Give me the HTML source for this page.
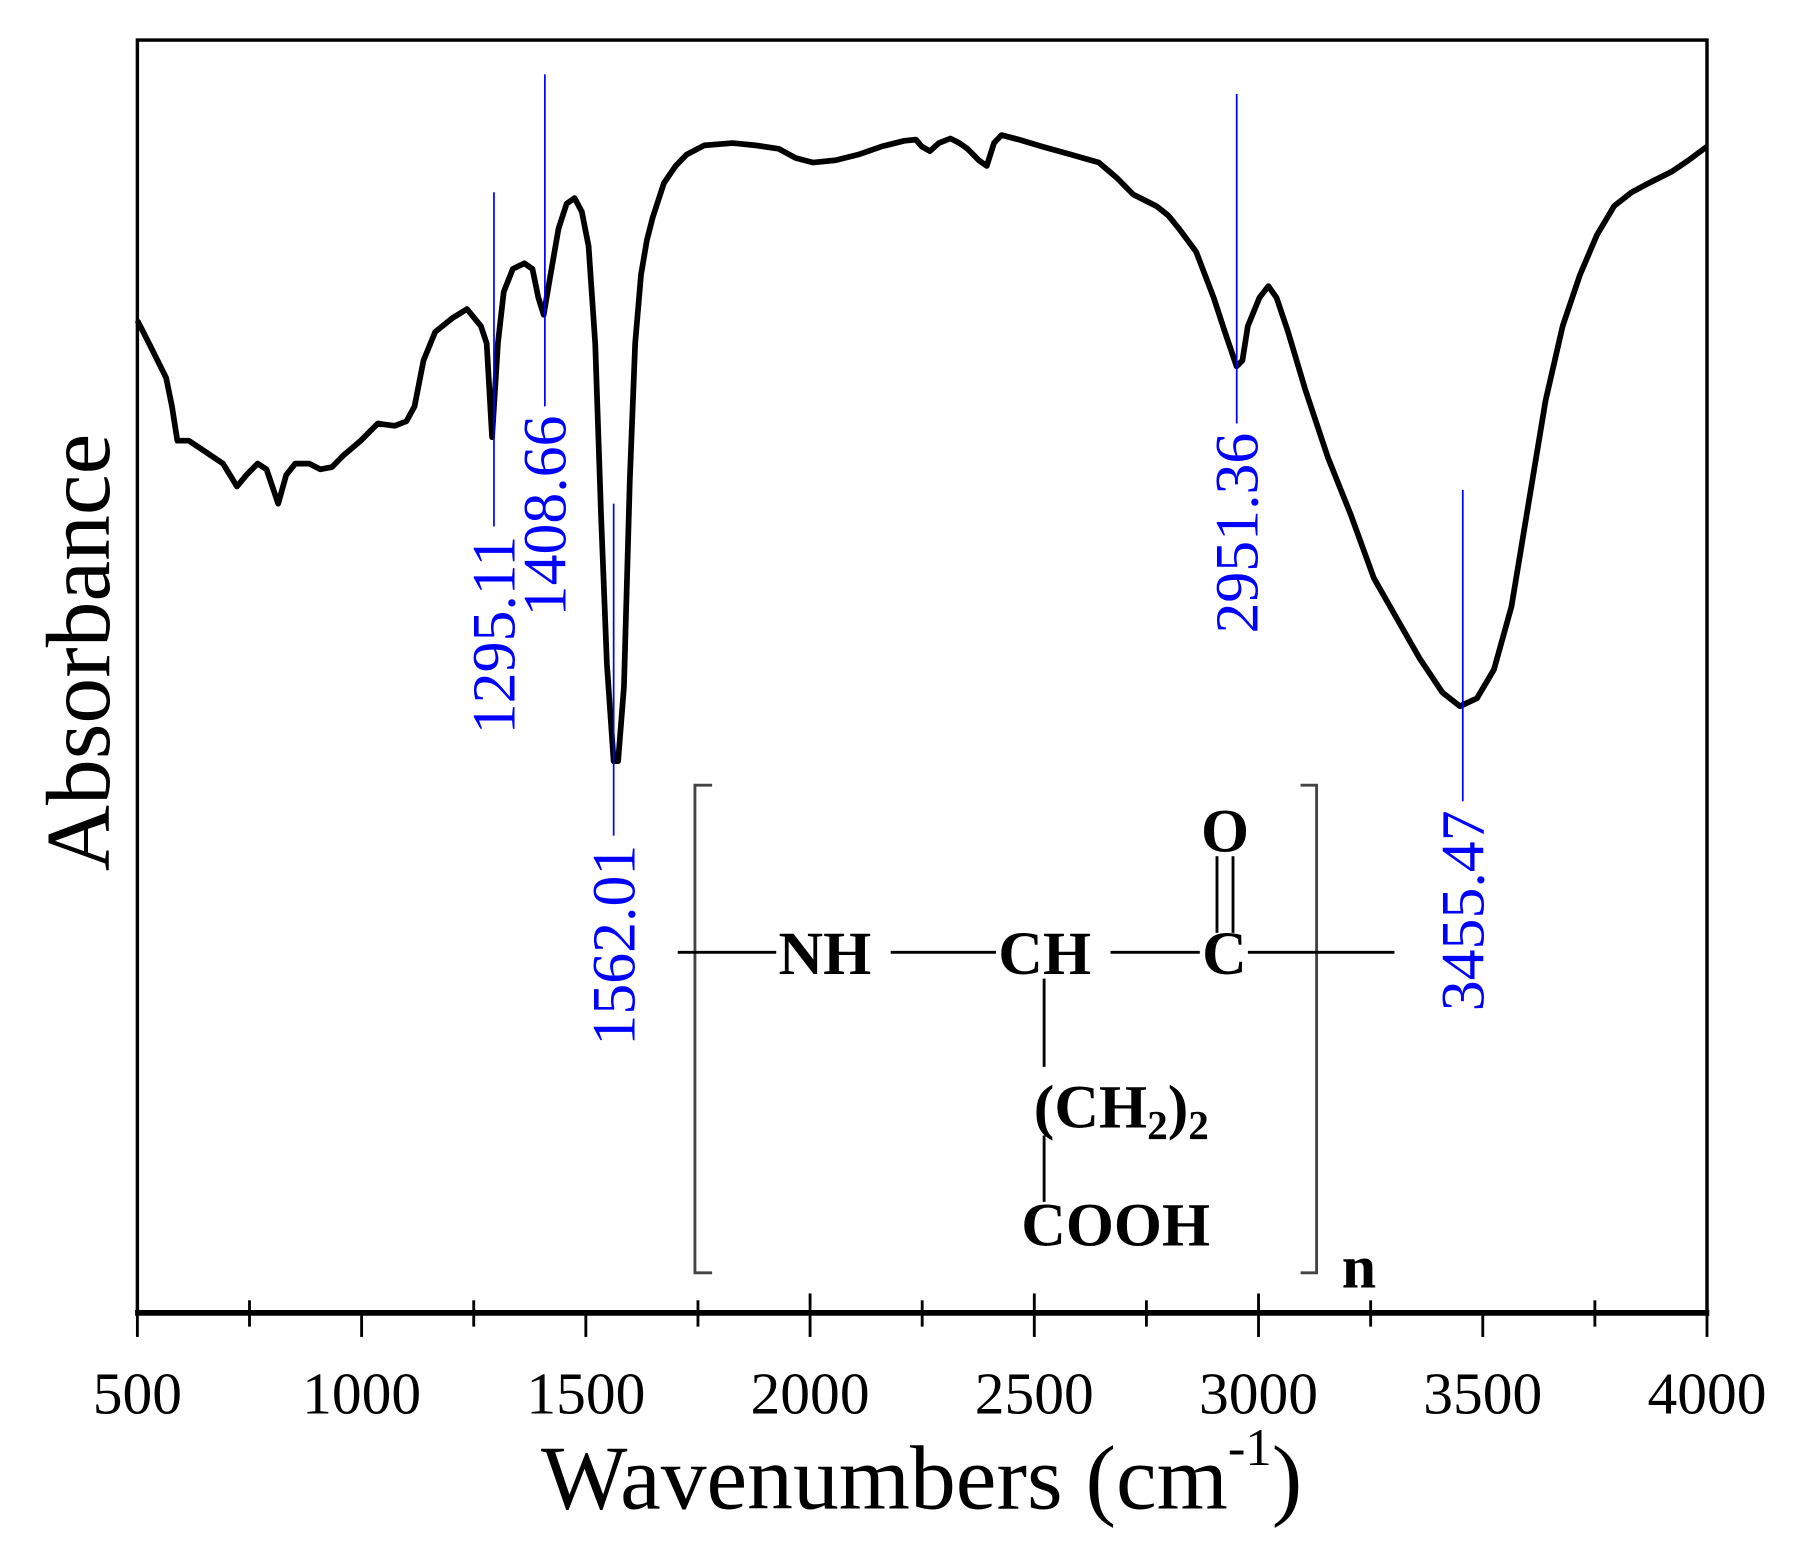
<!DOCTYPE html>
<html><head><meta charset="utf-8">
<style>html,body{margin:0;padding:0;background:#fff}svg{display:block}</style>
</head><body>
<svg id="chart" width="1794" height="1551" viewBox="0 0 1567 1355" preserveAspectRatio="none" xmlns="http://www.w3.org/2000/svg" font-family="'Liberation Serif', serif">
<rect x="120" y="35" width="1371" height="1112" fill="none" stroke="#000" stroke-width="3"/>
<g id="axis"></g>
<text x="805" y="1318" font-size="80" text-anchor="middle">Wavenumbers (cm<tspan font-size="46" dy="-38">-1</tspan><tspan dy="38">)</tspan></text>
<text transform="translate(95,570) rotate(-90)" font-size="80" text-anchor="middle">Absorbance</text>
<path id="spectrum" fill="none" stroke="#000" stroke-width="5" stroke-linejoin="round"/>
<g id="peaks"></g>
<g font-weight="bold" font-size="54" stroke-width="2.5">
<path d="M622 686 H607 V1112 H622 M1136 686 H1150 V1112 H1136" fill="none" stroke="#444"/>
<line x1="592" y1="832" x2="678" y2="832" stroke="#000"/>
<text x="680" y="851">NH</text>
<line x1="778" y1="832" x2="870" y2="832" stroke="#000"/>
<text x="872" y="851">CH</text>
<line x1="970" y1="832" x2="1048" y2="832" stroke="#000"/>
<text x="1050" y="851">C</text>
<line x1="1090" y1="832" x2="1218" y2="832" stroke="#000"/>
<text x="1070" y="744" text-anchor="middle">O</text>
<line x1="1063" y1="748" x2="1063" y2="815" stroke="#000"/>
<line x1="1077" y1="748" x2="1077" y2="815" stroke="#000"/>
<line x1="912" y1="855" x2="912" y2="932" stroke="#000"/>
<text x="903" y="985">(CH<tspan font-size="36" dy="10">2</tspan><tspan dy="-10">)</tspan><tspan font-size="36" dy="10">2</tspan></text>
<line x1="912" y1="992" x2="912" y2="1050" stroke="#000"/>
<text x="892" y="1088">COOH</text>
<text x="1172" y="1125">n</text>
</g>
</svg>
<script>
const wavenumbers=[500,526,564,577,589,615,653,691,722,743,768,788,814,832,852,883,908,934,959,998,1036,1074,1100,1118,1138,1164,1202,1235,1266,1279,1291,1304,1317,1337,1363,1381,1394,1406,1419,1439,1457,1475,1491,1506,1521,1534,1547,1562,1572,1585,1598,1610,1623,1636,1649,1674,1700,1725,1764,1827,1879,1930,1968,2006,2057,2108,2159,2210,2236,2249,2267,2287,2313,2333,2351,2376,2394,2410,2427,2466,2517,2581,2644,2683,2721,2772,2798,2823,2861,2900,2925,2951,2964,2976,3002,3022,3040,3066,3104,3155,3206,3257,3308,3359,3410,3449,3487,3525,3564,3602,3640,3678,3717,3755,3793,3832,3870,3921,3959,4000];
const absorb=[867,847,817,792,762,762,752,742,722,732,742,737,707,732,742,742,737,739,749,762,777,775,779,792,832,857,869,877,862,847,765,847,892,912,917,912,887,872,902,947,969,974,962,932,847,697,567,482,482,547,727,847,907,937,957,987,1002,1012,1020,1022,1020,1017,1009,1005,1007,1012,1019,1024,1025,1019,1015,1022,1026,1022,1017,1007,1002,1022,1029,1025,1019,1012,1005,992,977,967,959,947,927,887,857,827,832,862,887,897,887,857,807,747,697,642,607,572,542,530,537,562,617,707,797,862,907,942,967,979,987,997,1007,1019];
const peakWn=[1295.11,1408.66,1562.01,2951.36,3455.47];
const peakLabels=["1295.11","1408.66","1562.01","2951.36","3455.47"];
const peakTop=[979,1082,707,1065,719];
const peakBottom=[687,792,417,777,447];
const tickLabels=["500","1000","1500","2000","2500","3000","3500","4000"];
const tickValues=[500,1000,1500,2000,2500,3000,3500,4000];
const minorValues=[750,1250,1750,2250,2750,3250,3750];

const X=w=>120+(w-500)/3500*1371;
const Y=v=>1147-v;
const NS="http://www.w3.org/2000/svg";
function mk(tag,attrs,parent){const e=document.createElementNS(NS,tag);for(const k in attrs)e.setAttribute(k,attrs[k]);parent.appendChild(e);return e;}

const axis=document.getElementById('axis');
const baseline=mk('line',{x1:118,x2:1493,y1:1147,y2:1147,stroke:'#000','stroke-width':5},axis);


tickValues.forEach((t,i)=>{
  const up=(t>=2000&&t<=3000)?1130:1147;
  const tk=mk('line',{x1:X(t),x2:X(t),y1:up,y2:1168,stroke:'#000','stroke-width':2.5},axis);
  
  
  const tx=mk('text',{x:X(t),y:1235,'font-size':52,'text-anchor':'middle'},axis);
  tx.textContent=tickLabels[i];
  
  
});
minorValues.forEach(t=>{
  const tk=mk('line',{x1:X(t),x2:X(t),y1:1136,y2:1159,stroke:'#000','stroke-width':2.5},axis);
  
  
});

document.getElementById('spectrum').setAttribute('d',wavenumbers.map((w,i)=>(i?'L':'M')+X(w).toFixed(1)+' '+Y(absorb[i]).toFixed(1)).join(' '));

const peaks=document.getElementById('peaks');
peakWn.forEach((w,i)=>{
  const x=X(w);
  const ln=mk('line',{x1:x,x2:x,y1:Y(peakTop[i]),y2:Y(peakBottom[i]),stroke:'#0000ff','stroke-width':1.5},peaks);
  
  
  const ty=Y(peakBottom[i])+8;
  const tx=mk('text',{transform:`translate(${x+18},${ty}) rotate(-90)`,'font-size':54,fill:'#0000ff','text-anchor':'end'},peaks);
  tx.textContent=peakLabels[i];
  
  
});
</script>
</body></html>
